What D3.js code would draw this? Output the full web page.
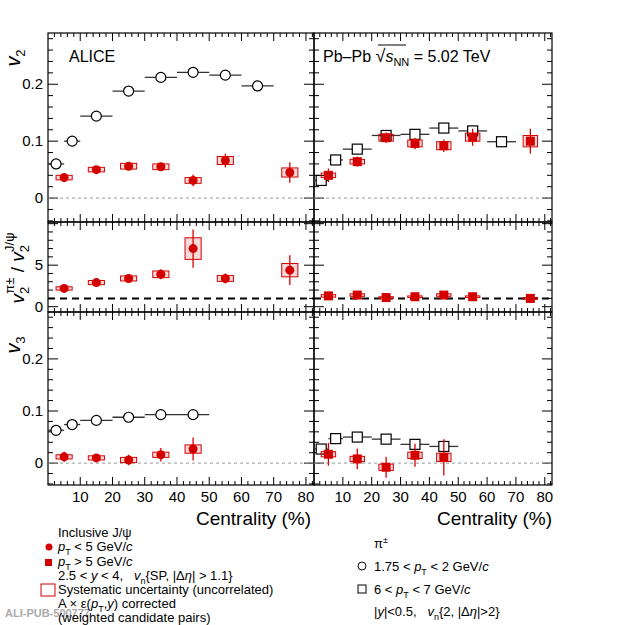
<!DOCTYPE html>
<html><head><meta charset="utf-8">
<script src="https://cdn.jsdelivr.net/npm/d3@7"></script>
<style>body{margin:0;background:#fff}text{font-family:"Liberation Sans",Arial,sans-serif;white-space:pre}</style>
</head><body><svg id="c" width="622" height="625"></svg>
<script>
// ---- data ----
const pionLowBins = [[0,5],[5,10],[10,20],[20,30],[30,40],[40,50],[50,60],[60,70]];
const pionLowV2 = [0.060,0.100,0.144,0.188,0.212,0.221,0.216,0.197];
const pionHighV2 = [0.031,0.067,0.086,0.110,0.112,0.123,0.118,0.099];
const v3Bins = [[0,5],[5,10],[10,20],[20,30],[30,40],[40,50]];
const pionLowV3 = [0.063,0.074,0.082,0.088,0.093,0.093];
const pionHighV3 = [0.027,0.047,0.050,0.046,0.036,0.032];
const jpsiX = [5,15,25,35,45,55,75];
const jpsiLowV2 = [0.036,0.050,0.056,0.055,0.031,0.066,0.045];
const jpsiLowV2Stat = [0.005,0.005,0.006,0.007,0.010,0.012,0.018];
const jpsiLowV2Sys = [0.004,0.004,0.005,0.005,0.005,0.007,0.008];
const jpsiHighV2 = [0.040,0.064,0.106,0.096,0.092,0.107,0.100];
const jpsiHighV2Stat = [0.012,0.009,0.009,0.010,0.011,0.015,0.022];
const jpsiHighV2Sys = [0.004,0.004,0.006,0.006,0.007,0.007,0.010];
const ratioLow = [2.2,2.9,3.4,3.9,7.0,3.4,4.4];
const ratioLowStat = [0.4,0.4,0.4,0.6,2.3,0.6,1.8];
const ratioLowSys = [0.2,0.25,0.3,0.4,1.3,0.35,0.8];
const ratioHigh = [1.3,1.4,1.1,1.2,1.4,1.2,1.0];
const ratioHighStat = [0.2,0.15,0.1,0.15,0.15,0.15,0.15];
const ratioHighSys = [0.15,0.15,0.1,0.1,0.15,0.1,0.1];
const v3X = [5,15,25,35,45];
const jpsiLowV3 = [0.012,0.010,0.006,0.016,0.027];
const jpsiLowV3Stat = [0.010,0.007,0.010,0.013,0.022];
const jpsiLowV3Sys = [0.004,0.004,0.005,0.005,0.008];
const jpsiHighV3 = [0.017,0.008,-0.008,0.015,0.011];
const jpsiHighV3Stat = [0.022,0.020,0.020,0.022,0.035];
const jpsiHighV3Sys = [0.005,0.005,0.006,0.006,0.008];
const xTicks = [10,20,30,40,50,60,70,80];

const svg = d3.select("#c");
const red = "#d40000";
const rows = [{y0:33,y1:222,dom:[-0.042,0.29],maj:0.1,min:0.02,labels:[0,0.1,0.2]},
              {y0:222,y1:312,dom:[-0.64,10.2],maj:5,min:1,labels:[0,5]},
              {y0:312,y1:485,dom:[-0.042,0.29],maj:0.1,min:0.02,labels:[0,0.1,0.2]}];
const cols = [{x0:48,x1:314,dom:[0,82.5]},{x0:314,x1:552,dom:[0,82.5]}];

function panel(r,c){
  const R=rows[r],C=cols[c];
  const x=d3.scaleLinear().domain(C.dom).range([C.x0,C.x1]);
  const y=d3.scaleLinear().domain(R.dom).range([R.y1,R.y0]);
  const g=svg.append("g");
  g.append("rect").attr("x",C.x0).attr("y",R.y0).attr("width",C.x1-C.x0).attr("height",R.y1-R.y0).attr("fill","none").attr("stroke","#000").attr("stroke-width",1.2);
  const xs=d3.range(2,83,2);
  xs.forEach(v=>{const L=v%10===0?8:4;const px=x(v);
    g.append("line").attr("x1",px).attr("x2",px).attr("y1",R.y1).attr("y2",R.y1-L).attr("stroke","#000");
    g.append("line").attr("x1",px).attr("x2",px).attr("y1",R.y0).attr("y2",R.y0+L).attr("stroke","#000");});
  const ys=d3.range(Math.ceil(R.dom[0]/R.min)*R.min,R.dom[1],R.min);
  ys.forEach(v=>{const isMaj=Math.abs(v/R.maj-Math.round(v/R.maj))<1e-6;const L=isMaj?10:5;const py=y(v);
    g.append("line").attr("x1",C.x0).attr("x2",C.x0+L).attr("y1",py).attr("y2",py).attr("stroke","#000");
    g.append("line").attr("x1",C.x1).attr("x2",C.x1-L).attr("y1",py).attr("y2",py).attr("stroke","#000");});
  if(c===0) R.labels.forEach(v=>g.append("text").attr("x",C.x0-5).attr("y",y(v)+5).attr("text-anchor","end").attr("font-size",15).text(v));
  if(r===2) xTicks.forEach(v=>g.append("text").attr("x",x(v)).attr("y",R.y1+17).attr("text-anchor","middle").attr("font-size",15).text(v));
  if(r===1) g.append("line").attr("x1",C.x0).attr("x2",C.x1).attr("y1",y(1)).attr("y2",y(1)).attr("stroke","#000").attr("stroke-width",2).attr("stroke-dasharray","7,5");
  else g.append("line").attr("x1",C.x0).attr("x2",C.x1).attr("y1",y(0)).attr("y2",y(0)).attr("stroke","#999").attr("stroke-dasharray","3,3");
  return {x,y,g};
}
function pions(P,bins,vals,shape){
  bins.forEach((b,i)=>{const cx=P.x((b[0]+b[1])/2),cy=P.y(vals[i]);
    P.g.append("line").attr("x1",P.x(b[0])).attr("x2",P.x(b[1])).attr("y1",cy).attr("y2",cy).attr("stroke","#333").attr("stroke-width",1.3);
    if(shape==="c") P.g.append("circle").attr("cx",cx).attr("cy",cy).attr("r",5).attr("fill","#fff").attr("stroke","#000").attr("stroke-width",1.2);
    else P.g.append("rect").attr("x",cx-5).attr("y",cy-5).attr("width",10).attr("height",10).attr("fill","#fff").attr("stroke","#000").attr("stroke-width",1.2);});
}
function jpsi(P,xs,vals,stat,sys,shape){
  xs.forEach((xv,i)=>{const cx=P.x(xv),cy=P.y(vals[i]);
    P.g.append("rect").attr("x",P.x(xv-2.5)).attr("y",P.y(vals[i]+sys[i])).attr("width",P.x(xv+2.5)-P.x(xv-2.5)).attr("height",P.y(vals[i]-sys[i])-P.y(vals[i]+sys[i])).attr("fill","rgba(212,0,0,0.15)").attr("stroke",red).attr("stroke-width",1);
    P.g.append("line").attr("x1",cx).attr("x2",cx).attr("y1",P.y(vals[i]-stat[i])).attr("y2",P.y(vals[i]+stat[i])).attr("stroke",red).attr("stroke-width",1.3);
    if(shape==="c") P.g.append("circle").attr("cx",cx).attr("cy",cy).attr("r",4.5).attr("fill",red);
    else P.g.append("rect").attr("x",cx-4.5).attr("y",cy-4.5).attr("width",9).attr("height",9).attr("fill",red);});
}
const p00=panel(0,0),p01=panel(0,1),p10=panel(1,0),p11=panel(1,1),p20=panel(2,0),p21=panel(2,1);
pions(p00,pionLowBins,pionLowV2,"c"); jpsi(p00,jpsiX,jpsiLowV2,jpsiLowV2Stat,jpsiLowV2Sys,"c");
pions(p01,pionLowBins,pionHighV2,"s"); jpsi(p01,jpsiX,jpsiHighV2,jpsiHighV2Stat,jpsiHighV2Sys,"s");
jpsi(p10,jpsiX,ratioLow,ratioLowStat,ratioLowSys,"c");
jpsi(p11,jpsiX,ratioHigh,ratioHighStat,ratioHighSys,"s");
pions(p20,v3Bins,pionLowV3,"c"); jpsi(p20,v3X,jpsiLowV3,jpsiLowV3Stat,jpsiLowV3Sys,"c");
pions(p21,v3Bins,pionHighV3,"s"); jpsi(p21,v3X,jpsiHighV3,jpsiHighV3Stat,jpsiHighV3Sys,"s");

svg.append("text").attr("x",69).attr("y",62).attr("font-size",16).text("ALICE");
const t=svg.append("text").attr("x",323).attr("y",62).attr("font-size",16);
t.append("tspan").text("Pb–Pb ");
t.append("tspan").attr("font-size",18).text("√");
t.append("tspan").attr("font-style","italic").text("s");
t.append("tspan").attr("font-size",11).attr("dy",4).text("NN");
t.append("tspan").attr("dy",-4).text(" = 5.02 TeV");
svg.append("line").attr("x1",378).attr("x2",406).attr("y1",45).attr("y2",45).attr("stroke","#000");
function ytitle(x,y,build){const g=svg.append("text").attr("transform",`translate(${x},${y}) rotate(-90)`).attr("font-size",20).attr("text-anchor","middle");build(g);}
ytitle(20,58,g=>{g.append("tspan").attr("font-style","italic").text("v");g.append("tspan").attr("font-size",13).attr("dy",5).text("2");});
ytitle(20,345,g=>{g.append("tspan").attr("font-style","italic").text("v");g.append("tspan").attr("font-size",13).attr("dy",5).text("3");});
ytitle(24,268,g=>{g.attr("font-size",19);g.append("tspan").attr("font-style","italic").text("v");g.append("tspan").attr("font-size",13).attr("dy",5).text("2");
 g.append("tspan").attr("font-size",13).attr("dy",-15).attr("dx",-7).text("π±");g.append("tspan").attr("dy",10).text(" / ");
 g.append("tspan").attr("font-style","italic").text("v");g.append("tspan").attr("font-size",13).attr("dy",5).text("2");
 g.append("tspan").attr("font-size",13).attr("dy",-15).attr("dx",-7).text("J/ψ");});
svg.append("text").attr("x",311).attr("y",525).attr("text-anchor","end").attr("font-size",19).text("Centrality (%)");
svg.append("text").attr("x",552).attr("y",525).attr("text-anchor","end").attr("font-size",19).text("Centrality (%)");

svg.append("text").attr("x",5).attr("y",617).attr("font-size",11).attr("fill","#aaa").attr("font-family","DejaVu Sans Mono").attr("font-weight","bold").text("ALI-PUB-500777");
const lf=13;
function line(x,y,parts){const tx=svg.append("text").attr("x",x).attr("y",y).attr("font-size",lf);
 parts.forEach(p=>{const s=tx.append("tspan").text(p[0]);if(p[1]==="i")s.attr("font-style","italic");if(p[1]==="sub")s.attr("font-size",9).attr("dy",4);if(p[1]==="up")s.attr("dy",-4);if(p[1]==="sup")s.attr("font-size",9).attr("dy",-5);});}
line(58,537,[["Inclusive J/ψ"]]);
line(58,551,[["p","i"],["T","sub"],[" < 5 GeV/","up"],["c","i"]]);
line(58,566,[["p","i"],["T","sub"],[" > 5 GeV/","up"],["c","i"]]);
line(58,580,[["2.5 < "],["y","i"],[" < 4,   "],["v","i"],["n","sub"],["{SP, |Δ","up"],["η","i"],["| > 1.1}"]]);
line(58,594,[["Systematic uncertainty (uncorrelated)"]]);
line(58,608,[["A × ε("],["p","i"],["T","sub"],[",","up"],["y","i"],[") corrected"]]);
line(58,622,[["(weighted candidate pairs)"]]);
svg.append("circle").attr("cx",49).attr("cy",547).attr("r",3.5).attr("fill",red);
svg.append("rect").attr("x",45).attr("y",559).attr("width",7).attr("height",7).attr("fill",red);
svg.append("rect").attr("x",41).attr("y",584).attr("width",14).attr("height",12).attr("fill","none").attr("stroke",red);
line(374,548,[["π"],["±","sup"]]);
line(374,571,[["1.75 < "],["p","i"],["T","sub"],[" < 2 GeV/","up"],["c","i"]]);
line(374,594,[["6 < "],["p","i"],["T","sub"],[" < 7 GeV/","up"],["c","i"]]);
line(374,616,[["|"],["y","i"],["|<0.5,   "],["v","i"],["n","sub"],["{2, |Δ","up"],["η","i"],["|>2}"]]);
svg.append("circle").attr("cx",362).attr("cy",566).attr("r",4).attr("fill","none").attr("stroke","#000");
svg.append("rect").attr("x",358).attr("y",585).attr("width",8).attr("height",8).attr("fill","none").attr("stroke","#000");
</script></body></html>
